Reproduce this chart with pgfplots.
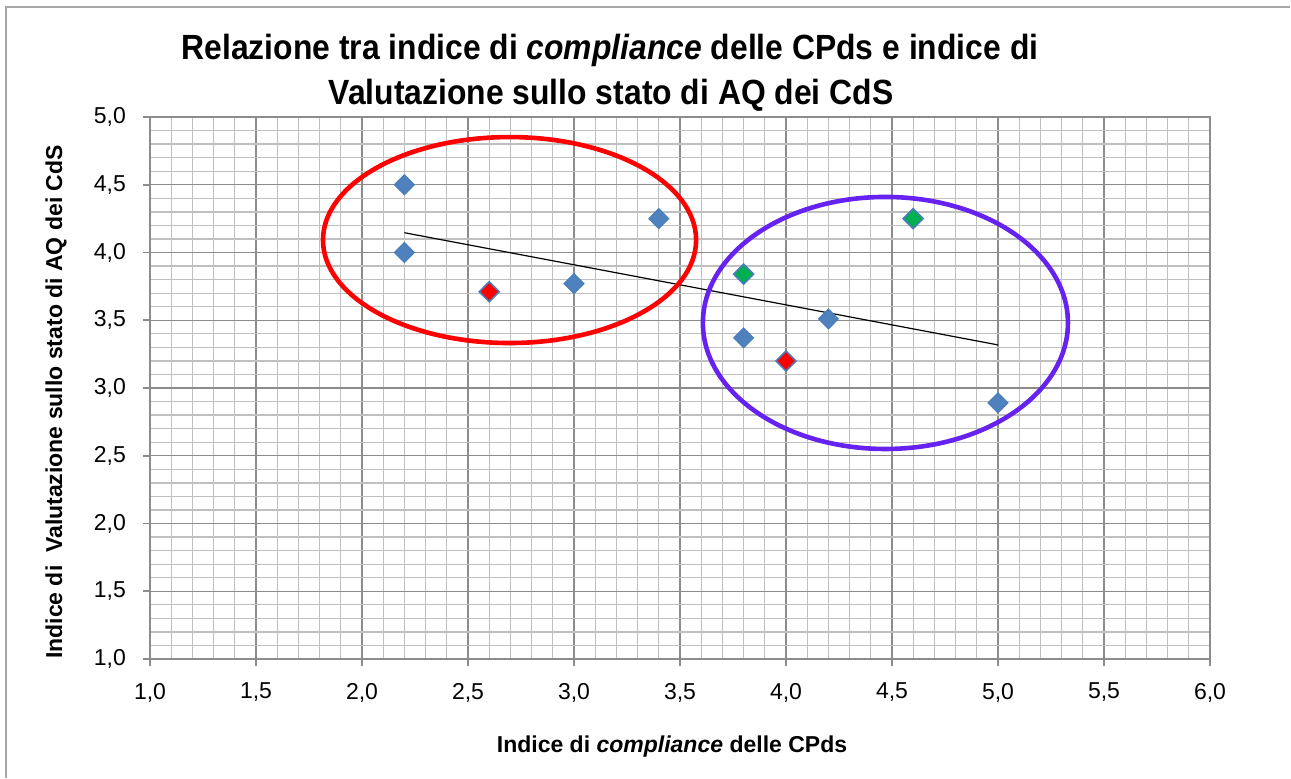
\documentclass[border=0pt]{standalone}
\usepackage{pgfplots}
\pgfplotsset{compat=1.18}
\usepackage{fontspec}
\setmainfont{Liberation Sans}
\newfontfamily\narrowfont[FakeStretch=0.91]{Liberation Sans}
\definecolor{mblue}{HTML}{4F81BD}
\definecolor{mborder}{HTML}{4A7EBB}
\definecolor{mgreen}{HTML}{00B050}
\definecolor{majgrid}{HTML}{8C8C8C}
\definecolor{mingrid}{HTML}{C0C0C0}
\definecolor{epurple}{HTML}{6622EE}
\begin{document}
\begin{tikzpicture}
\useasboundingbox (0,0) rectangle (645.5pt,389pt);
\draw[gray!70, line width=1pt] (3pt,0) -- (3pt,385.5pt) -- (645pt,385.5pt);
\begin{axis}[
  at={(75pt,59.5pt)}, anchor=south west,
  scale only axis, width=530pt, height=271pt,
  xmin=1, xmax=6, ymin=1, ymax=5,
  xtick={1,1.5,...,6}, ytick={1,1.5,...,5},
  minor x tick num=4, minor y tick num=4,
  grid=both,
  major grid style={majgrid, line width=0.65pt},
  minor grid style={mingrid, line width=0.65pt},
  axis line style={majgrid, line width=0.8pt},
  tick align=outside, major tick length=3.5pt, minor tick length=0pt,
  tick style={majgrid, line width=0.8pt},
  xtick pos=left, ytick pos=left,
  /pgf/number format/.cd, fixed, fixed zerofill, precision=1, use comma, assume math mode=true,
  /pgfplots/.cd,
  ticklabel style={font=\fontsize{11.5pt}{13pt}\selectfont},
  xticklabel style={yshift=-5pt},
  yticklabel style={xshift=-5pt},
  clip=false,
]
\addplot[only marks, mark=diamond*, mark size=5pt, mark options={xscale=1.33, fill=mblue, draw=mborder, line width=0.5pt}]
  coordinates {(2.2,4.5)(2.2,4.0)(3.0,3.77)(3.4,4.25)(3.8,3.37)(4.2,3.51)(5.0,2.89)};
\addplot[only marks, mark=diamond*, mark size=5pt, mark options={xscale=1.33, fill=red, draw=mborder, line width=0.8pt}]
  coordinates {(2.6,3.71)(4.0,3.20)};
\addplot[only marks, mark=diamond*, mark size=5pt, mark options={xscale=1.33, fill=mgreen, draw=mborder, line width=0.8pt}]
  coordinates {(3.8,3.84)(4.6,4.25)};
\addplot[black, line width=0.6pt] coordinates {(2.2,4.146)(5.0,3.318)};
\draw[red, line width=2.3pt] (axis cs:2.696,4.092) ellipse [x radius=0.88, y radius=0.76];
\draw[epurple, line width=2.3pt] (axis cs:4.469,3.48) ellipse [x radius=0.861, y radius=0.93];
\end{axis}
\node[font=\narrowfont\bfseries\fontsize{17.5pt}{21pt}\selectfont, anchor=base, inner sep=0pt] at (305pt,359pt)
  {Relazione tra indice di \textit{compliance} delle CPds e indice di};
\node[font=\narrowfont\bfseries\fontsize{17.5pt}{21pt}\selectfont, anchor=base, inner sep=0pt] at (305.5pt,336.5pt)
  {Valutazione sullo stato di AQ dei CdS};
\node[font=\bfseries\fontsize{11.5pt}{13pt}\selectfont, anchor=base, inner sep=0pt] at (336pt,13pt)
  {Indice di \textit{compliance} delle CPds};
\node[font=\bfseries\fontsize{11.5pt}{13pt}\selectfont, rotate=90, anchor=base, inner sep=0pt] at (31pt,188pt)
  {Indice di \ Valutazione sullo stato di AQ dei CdS};
\end{tikzpicture}
\end{document}
